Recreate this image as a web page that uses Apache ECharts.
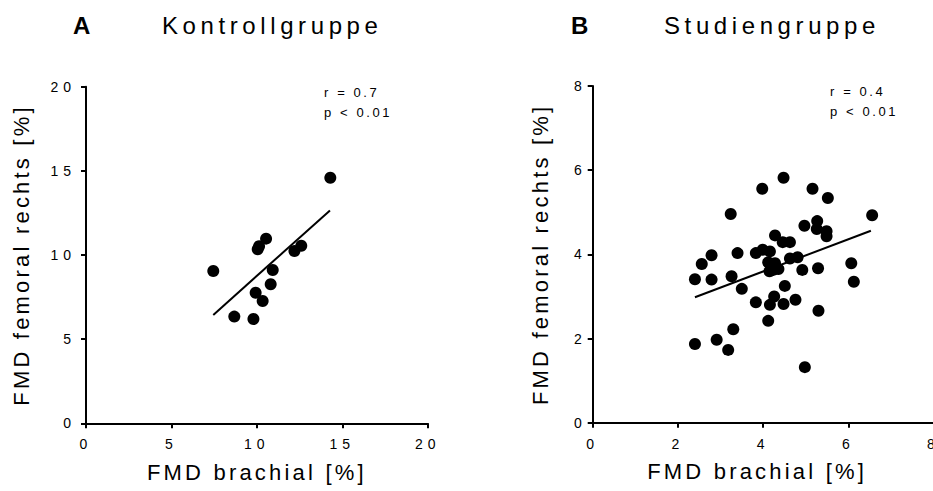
<!DOCTYPE html>
<html>
<head>
<meta charset="utf-8">
<title>FMD femoral vs. brachial</title>
<script src="https://cdn.jsdelivr.net/npm/echarts@6/dist/echarts.min.js"></script>
<style>
  html, body { margin: 0; padding: 0; background: #fff; }
  #chart { width: 933px; height: 491px; }
  /* wide letter spacing per text role, keyed on font size */
  #chart text[style*="24px"] { letter-spacing: 4.6px; }
  #chart text[style*="22px"] { letter-spacing: 3.2px; }
  #chart text[style*="14px"] { letter-spacing: 5px; }
  #chart text[style*="13px"] { letter-spacing: 2.6px; }
</style>
</head>
<body>
<div id="chart"></div>
<script>
// Kontrollgruppe: FMD brachial vs. FMD femoral rechts (%)
const kontrollBrachial = [7.45, 8.68, 9.80, 9.93, 10.34, 10.81, 10.93, 10.05, 10.13, 10.54, 12.20, 12.60, 14.30];
const kontrollFemoral  = [9.05, 6.34, 6.20, 7.76, 7.27, 8.26, 9.11, 10.34, 10.52, 10.97, 10.24, 10.55, 14.59];
const kontrollFitX = [7.45, 14.28];
const kontrollFitY = [6.44, 12.65];
const kontrollTicks = [0, 5, 10, 15, 20];
const kontrollStats = ['r = 0.7', 'p < 0.01'];

// Studiengruppe
const studienBrachial = [2.40, 2.40, 2.56, 2.79, 2.79, 2.91, 3.18, 3.24, 3.26, 3.30,
                         3.40, 3.50, 3.83, 3.83, 3.98, 3.99, 4.16, 4.12, 4.28, 4.15,
                         4.24, 4.36, 4.12, 4.16, 4.26, 4.28, 4.46, 4.63, 4.48, 4.51,
                         4.48, 4.63, 4.81, 4.76, 4.92, 4.97, 4.98, 5.16, 5.27, 5.26,
                         5.29, 5.30, 5.52, 5.49, 5.49, 6.07, 6.13, 6.56];
const studienFemoral  = [3.41, 1.87, 3.77, 3.98, 3.40, 1.97, 1.73, 4.96, 3.48, 2.22,
                         4.03, 3.18, 2.86, 4.03, 5.56, 4.11, 4.07, 3.81, 3.79, 3.60,
                         3.63, 3.65, 2.42, 2.80, 3.00, 4.45, 4.29, 4.29, 5.82, 3.25,
                         2.82, 3.90, 3.93, 2.92, 3.63, 4.68, 1.32, 5.56, 4.79, 4.60,
                         3.67, 2.66, 5.34, 4.55, 4.43, 3.79, 3.35, 4.93];
const studienFitX = [2.40, 6.53];
const studienFitY = [2.98, 4.56];
const studienTicks = [0, 2, 4, 6, 8];
const studienStats = ['r = 0.4', 'p < 0.01'];

const panelLetters = ['A', 'B'];
const panelTitles = ['Kontrollgruppe', 'Studiengruppe'];
const xName = 'FMD brachial [%]';
const yName = 'FMD femoral rechts [%]';

const FONT = "'Liberation Sans', Arial, Helvetica, sans-serif";
const zip = (xs, ys) => xs.map((x, i) => [x, ys[i]]);

function axisBase(ticks, margin) {
  return {
    type: 'value',
    min: ticks[0],
    max: ticks[ticks.length - 1],
    interval: ticks[1] - ticks[0],
    splitLine: { show: false },
    axisLine: { show: true, onZero: false, lineStyle: { color: '#000', width: 2 } },
    axisTick: { show: true, length: 5, lineStyle: { color: '#000', width: 2 } },
    axisLabel: { color: '#000', fontSize: 14, fontFamily: FONT, margin: margin,
                 showMinLabel: true, showMaxLabel: true, hideOverlap: false },
    nameLocation: 'middle',
    nameTextStyle: { color: '#000', fontSize: 22, fontFamily: FONT }
  };
}

const chart = echarts.init(document.getElementById('chart'), null, { renderer: 'svg' });

const titleText = (text, left, top, extra) => ({
  text: text, left: left, top: top, padding: 0,
  textStyle: Object.assign({ color: '#000', fontFamily: FONT, fontWeight: 'normal', fontSize: 24 }, extra || {})
});

const dotStyle = { color: '#000', opacity: 1 };

chart.setOption({
  animation: false,
  backgroundColor: '#fff',
  title: [
    titleText(panelLetters[0], 73, 13, { fontWeight: 'bold' }),
    titleText(panelTitles[0], 162, 13),
    titleText(panelLetters[1], 571, 13, { fontWeight: 'bold' }),
    titleText(panelTitles[1], 664, 13),
    titleText(kontrollStats.join('\n'), 324, 83, { fontSize: 13, lineHeight: 19.5 }),
    titleText(studienStats.join('\n'), 830, 82, { fontSize: 13, lineHeight: 19.5 })
  ],
  grid: [
    { left: 86, top: 86.7, width: 341.7, height: 336.6, outerBoundsMode: 'none', containLabel: false },
    { left: 592.7, top: 86, width: 340.8, height: 336.7, outerBoundsMode: 'none', containLabel: false }
  ],
  xAxis: [
    Object.assign(axisBase(kontrollTicks, 14), { gridIndex: 0, name: xName, nameGap: 38 }),
    Object.assign(axisBase(studienTicks, 14), { gridIndex: 1, name: xName, nameGap: 38 })
  ],
  yAxis: [
    Object.assign(axisBase(kontrollTicks, 10), { gridIndex: 0, name: yName, nameGap: 54 }),
    Object.assign(axisBase(studienTicks, 6), { gridIndex: 1, name: yName, nameGap: 41 })
  ],
  series: [
    {
      type: 'line', xAxisIndex: 0, yAxisIndex: 0,
      data: zip(kontrollFitX, kontrollFitY),
      showSymbol: false, lineStyle: { color: '#000', width: 2 }, silent: true, z: 3
    },
    {
      type: 'scatter', xAxisIndex: 0, yAxisIndex: 0,
      data: zip(kontrollBrachial, kontrollFemoral),
      symbol: 'circle', symbolSize: 12, itemStyle: dotStyle, z: 2
    },
    {
      type: 'line', xAxisIndex: 1, yAxisIndex: 1,
      data: zip(studienFitX, studienFitY),
      showSymbol: false, lineStyle: { color: '#000', width: 2 }, silent: true, z: 3
    },
    {
      type: 'scatter', xAxisIndex: 1, yAxisIndex: 1,
      data: zip(studienBrachial, studienFemoral),
      symbol: 'circle', symbolSize: 12, itemStyle: dotStyle, z: 2
    }
  ]
});

// keep the right-hand axis name centred on the visible part of its axis
chart.setOption({
  xAxis: [{}, { nameTextStyle: { color: '#000', fontSize: 22, fontFamily: FONT, padding: [0, 12, 0, 0] } }]
});
</script>
</body>
</html>
